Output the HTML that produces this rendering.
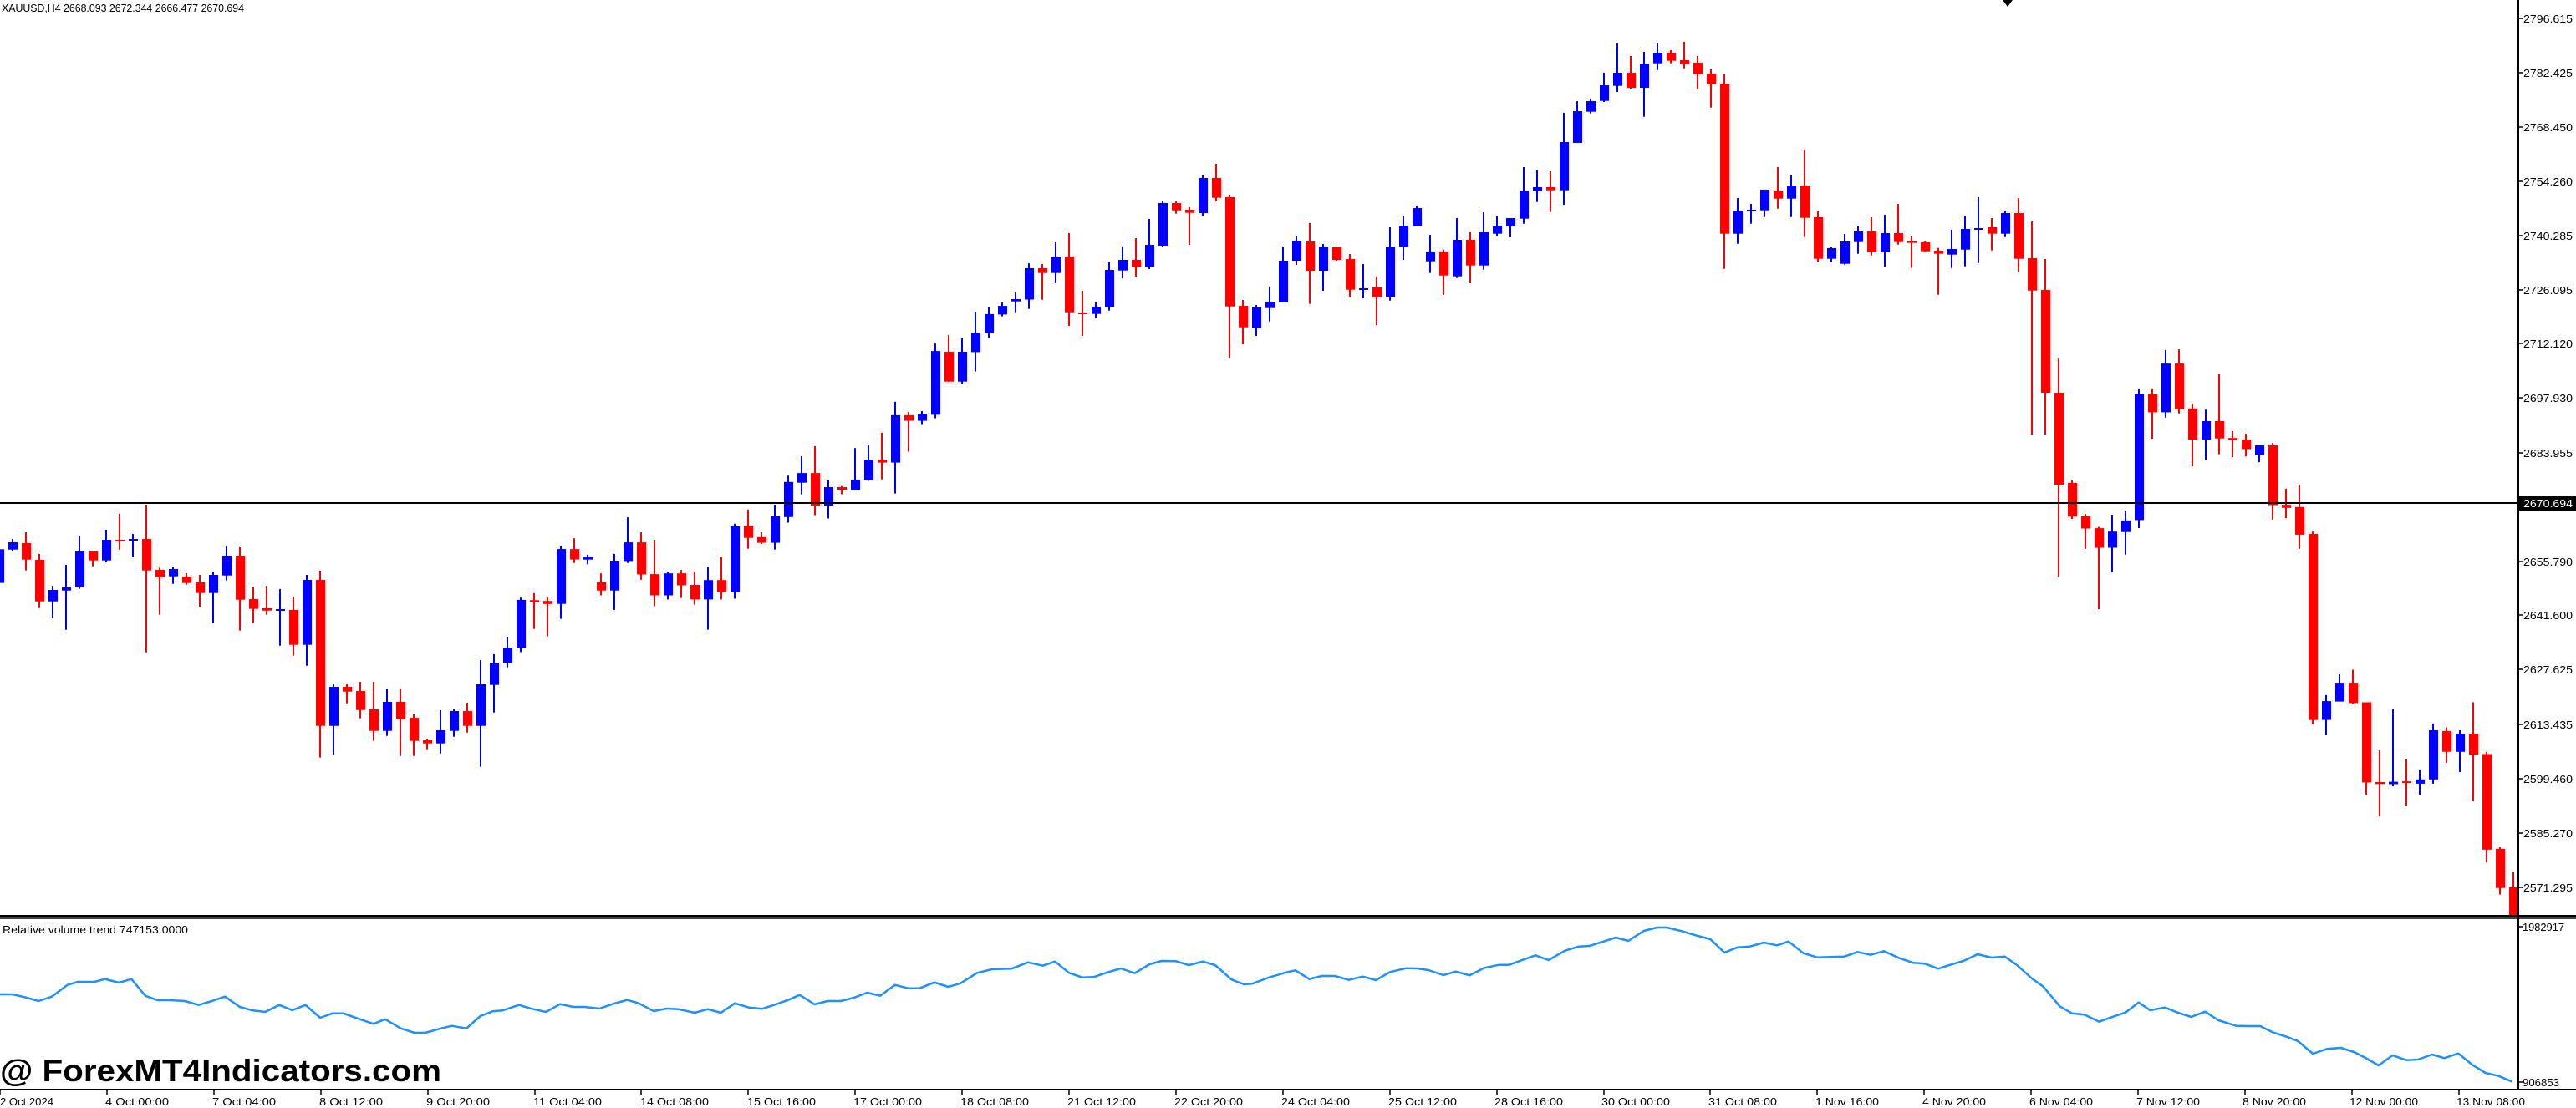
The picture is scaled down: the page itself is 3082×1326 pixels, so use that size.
<!DOCTYPE html>
<html><head><meta charset="utf-8"><style>
html,body{margin:0;padding:0;background:#fff;}
svg{display:block;}
text{font-family:"Liberation Sans",sans-serif;}
</style></head><body>
<svg id="c" width="3082" height="1326" viewBox="0 0 3082 1326" xmlns="http://www.w3.org/2000/svg">
<defs><clipPath id="pc"><rect x="0" y="0" width="3013" height="1095"/></clipPath></defs>
<rect x="0" y="0" width="3082" height="1326" fill="#fff"/>
<g id="candles" clip-path="url(#pc)"></g>
<polyline id="ind" fill="none" stroke="#1e90ff" stroke-width="2.5" stroke-linejoin="round" points=""/>
<line x1="0" y1="602" x2="3013" y2="602" stroke="#000" stroke-width="2"/>
<line x1="3013" y1="0" x2="3013" y2="1304" stroke="#000" stroke-width="2"/>
<line x1="0" y1="1096" x2="3082" y2="1096" stroke="#000" stroke-width="2"/>
<line x1="0" y1="1099" x2="3082" y2="1099" stroke="#000" stroke-width="1.5"/>
<line x1="0" y1="1304" x2="3082" y2="1304" stroke="#000" stroke-width="2"/>
<polygon points="2396,0 2408,0 2402,8" fill="#000"/>
<g id="ticks" stroke="#000" stroke-width="1.5"></g>
<g font-size="13" fill="#000">
<text x="2" y="14" textLength="290" lengthAdjust="spacingAndGlyphs">XAUUSD,H4  2668.093 2672.344 2666.477 2670.694</text>
<text x="3" y="1117" textLength="222" lengthAdjust="spacingAndGlyphs">Relative volume trend 747153.0000</text>
<g>
<text x="3019" y="27" textLength="59" lengthAdjust="spacingAndGlyphs">2796.615</text>
<text x="3019" y="92" textLength="59" lengthAdjust="spacingAndGlyphs">2782.425</text>
<text x="3019" y="157" textLength="59" lengthAdjust="spacingAndGlyphs">2768.450</text>
<text x="3019" y="222" textLength="59" lengthAdjust="spacingAndGlyphs">2754.260</text>
<text x="3019" y="287" textLength="59" lengthAdjust="spacingAndGlyphs">2740.285</text>
<text x="3019" y="352" textLength="59" lengthAdjust="spacingAndGlyphs">2726.095</text>
<text x="3019" y="416" textLength="59" lengthAdjust="spacingAndGlyphs">2712.120</text>
<text x="3019" y="481" textLength="59" lengthAdjust="spacingAndGlyphs">2697.930</text>
<text x="3019" y="547" textLength="59" lengthAdjust="spacingAndGlyphs">2683.955</text>
<text x="3019" y="677" textLength="59" lengthAdjust="spacingAndGlyphs">2655.790</text>
<text x="3019" y="741" textLength="59" lengthAdjust="spacingAndGlyphs">2641.600</text>
<text x="3019" y="806" textLength="59" lengthAdjust="spacingAndGlyphs">2627.625</text>
<text x="3019" y="872" textLength="59" lengthAdjust="spacingAndGlyphs">2613.435</text>
<text x="3019" y="937" textLength="59" lengthAdjust="spacingAndGlyphs">2599.460</text>
<text x="3019" y="1002" textLength="59" lengthAdjust="spacingAndGlyphs">2585.270</text>
<text x="3019" y="1067" textLength="59" lengthAdjust="spacingAndGlyphs">2571.295</text>
<text x="3018" y="1114" textLength="50" lengthAdjust="spacingAndGlyphs">1982917</text>
<text x="3018" y="1300" textLength="44" lengthAdjust="spacingAndGlyphs">906853</text>
</g>
<rect x="3014" y="594" width="68" height="17" fill="#000"/>
<text x="3019" y="607" fill="#fff" textLength="59" lengthAdjust="spacingAndGlyphs">2670.694</text>
<g>
<text x="0" y="1323" textLength="64" lengthAdjust="spacingAndGlyphs">2 Oct 2024</text>
<text x="126" y="1323" textLength="76" lengthAdjust="spacingAndGlyphs">4 Oct 00:00</text>
<text x="254" y="1323" textLength="76" lengthAdjust="spacingAndGlyphs">7 Oct 04:00</text>
<text x="382" y="1323" textLength="76" lengthAdjust="spacingAndGlyphs">8 Oct 12:00</text>
<text x="510" y="1323" textLength="76" lengthAdjust="spacingAndGlyphs">9 Oct 20:00</text>
<text x="638" y="1323" textLength="82" lengthAdjust="spacingAndGlyphs">11 Oct 04:00</text>
<text x="766" y="1323" textLength="82" lengthAdjust="spacingAndGlyphs">14 Oct 08:00</text>
<text x="894" y="1323" textLength="82" lengthAdjust="spacingAndGlyphs">15 Oct 16:00</text>
<text x="1021" y="1323" textLength="82" lengthAdjust="spacingAndGlyphs">17 Oct 00:00</text>
<text x="1149" y="1323" textLength="82" lengthAdjust="spacingAndGlyphs">18 Oct 08:00</text>
<text x="1277" y="1323" textLength="82" lengthAdjust="spacingAndGlyphs">21 Oct 12:00</text>
<text x="1405" y="1323" textLength="82" lengthAdjust="spacingAndGlyphs">22 Oct 20:00</text>
<text x="1533" y="1323" textLength="82" lengthAdjust="spacingAndGlyphs">24 Oct 04:00</text>
<text x="1661" y="1323" textLength="82" lengthAdjust="spacingAndGlyphs">25 Oct 12:00</text>
<text x="1788" y="1323" textLength="82" lengthAdjust="spacingAndGlyphs">28 Oct 16:00</text>
<text x="1916" y="1323" textLength="82" lengthAdjust="spacingAndGlyphs">30 Oct 00:00</text>
<text x="2044" y="1323" textLength="82" lengthAdjust="spacingAndGlyphs">31 Oct 08:00</text>
<text x="2172" y="1323" textLength="76" lengthAdjust="spacingAndGlyphs">1 Nov 16:00</text>
<text x="2300" y="1323" textLength="76" lengthAdjust="spacingAndGlyphs">4 Nov 20:00</text>
<text x="2428" y="1323" textLength="76" lengthAdjust="spacingAndGlyphs">6 Nov 04:00</text>
<text x="2556" y="1323" textLength="76" lengthAdjust="spacingAndGlyphs">7 Nov 12:00</text>
<text x="2683" y="1323" textLength="76" lengthAdjust="spacingAndGlyphs">8 Nov 20:00</text>
<text x="2811" y="1323" textLength="82" lengthAdjust="spacingAndGlyphs">12 Nov 00:00</text>
<text x="2939" y="1323" textLength="82" lengthAdjust="spacingAndGlyphs">13 Nov 08:00</text>
</g>
</g>
<text x="0" y="1294" font-size="37" font-weight="bold" fill="#000" textLength="528" lengthAdjust="spacingAndGlyphs">@ ForexMT4Indicators.com</text>
</svg>
<script>
(function(){
function zz(list,k,b){return list.map(function(c){return [c[0],c[1]/k+b,c[2]/k+b,c[3]/k+b,c[4]/k+b];});}
var z4=[["b",322,443,310,455],["b",297,323,285,330],["r",300,359,261,398],["r",360,509,339,533],["b",468,509,453,570],["b",459,470,378,611],["b",330,458,273,464],["r",330,362,330,383],["b",288,362,252,368],["r",288,292,195,323],["b",285,290,267,350],["r",285,398,162,692],["r",396,422,388,557],["b",393,419,387,446],["r",420,443,408,449],["r",441,479,414,530],["b",414,479,402,587],["b",345,416,309,434],["r",345,503,315,614],["r",501,536,459,587],["r",534,542,453,557],["b",537,542,465,668],["r",540,665,492,704],["b",432,665,414,740],["r",432,956,399,1070],["b",816,956,807,1061],["r",816,833,804,875],["r",831,899,798,929],["r",897,974,798,1010],["b",870,974,822,992],["r",870,932,822,1064],["r",927,1010,915,1064],["r",1008,1019,1002,1040],["b",972,1019,900,1055],["b",903,974,897,995],["r",903,956,873,980],["b",807,956,720,1103],["b",729,809,699,908],["b",675,731,636,746]];
var z5=[["b",1048,1177,1042,1188],["r",1049,1053,1030,1126],["r",1051,1059,1042,1146],["b",912,1059,905,1099],["r",912,940,883,949],["b",932,940,927,953],["r",1001,1023,977,1036],["b",943,1023,925,1075],["b",894,944,827,949],["r",894,980,867,994],["r",979,1036,887,1065],["b",977,1036,973,1047],["r",977,1009,968,1043],["r",1008,1047,972,1061],["b",995,1047,961,1128],["r",995,1027,932,1047],["b",851,1027,844,1045],["r",849,882,806,911],["r",880,895,867,898],["b",824,895,793,913],["b",732,826,715,841],["b",708,734,663,765],["r",708,796,636,821],["b",746,796,726,830],["r",746,753,743,765],["b",726,754,641,754],["b",672,727,632,729],["r",672,680,600,725],["b",553,680,517,763],["r",553,568,544,651],["b",549,568,542,579],["b",381,552,361,561],["r",383,463,338,463],["b",383,463,347,469],["b",332,384,276,436],["b",282,333,264,346],["b",260,283,251,288],["b",242,248,224,277],["b",159,243,146,268]];
var z6=[["r",873,890,858,986],["b",831,890,780,927],["r",831,1031,747,1080],["r",1032,1037,954,1116],["b",1011,1037,996,1052],["b",879,1014,852,1025],["b",843,881,795,909],["r",843,870,765,903],["b",789,870,696,876],["b",639,792,633,798],["r",639,665,633,677],["r",663,674,654,789],["b",549,675,540,684],["r",549,620,498,633],["r",618,1010,609,1194],["r",1008,1085,987,1146],["b",1014,1088,1005,1116],["b",993,1016,939,1064],["b",846,995,795,995],["b",774,846,759,861],["r",777,882,711,1001],["b",795,882,786,954],["r",798,843,795,846],["r",840,950,822,975],["b",945,950,858,981],["r",942,977,903,1077],["b",795,977,726,989],["b",720,797,687,843],["b",657,722,648,722],["b",813,848,753,890],["r",813,899,806,969],["b",771,902,693,908],["r",771,863,744,927],["b",744,863,672,878],["b",720,749,687,758],["b",693,722,693,762],["b",594,695,510,713],["b",582,596,522,635],["r",582,593,525,671]];
var z7=[["b",420,593,315,645],["b",309,423,273,423],["b",273,311,264,317],["b",216,272,171,276],["b",171,218,66,240],["r",171,225,111,228],["b",138,225,96,329],["b",99,137,63,161],["r",99,128,90,137],["r",126,140,60,155],["r",135,176,111,230],["r",174,212,159,296],["r",210,749,174,875],["b",666,749,621,785],["b",663,668,642,713],["b",591,665,591,689],["r",594,623,510,659],["b",576,623,540,689],["r",576,692,447,761],["r",690,839,669,851],["b",801,839,798,851],["b",777,857,750,860],["b",741,779,723,821],["r",741,815,690,827],["b",747,815,681,869],["r",747,779,642,788],["r",776,782,759,872],["r",780,812,774,812],["r",810,821,800,968],["b",804,824,735,872],["b",732,806,684,866],["b",729,734,618,854],["r",726,749,693,809],["b",675,749,666,761],["r",675,839,621,887],["r",837,953,705,1470]];
var mid=[["r",347,470,310,520],["r",470,580,429,690]];
var z8=[["r",431,519,425,525],["r",518,550,512,603],["r",549,600,546,760],["b",558,600,514,664],["b",529,559,505,618],["b",200,528,185,549],["r",200,247,185,316],["b",120,247,85,261],["r",120,239,83,250],["r",237,318,224,388],["b",270,318,240,372],["r",270,315,148,356],["r",314,319,296,364],["r",318,343,303,362],["b",333,358,333,377],["r",333,489,327,527],["r",488,496,446,523],["r",494,566,436,603],["r",564,1049,558,1060],["b",1000,1049,984,1089],["b",952,1001,930,1001],["r",952,1005,918,1008],["r",1003,1212,1003,1244],["r",1211,1216,1128,1300],["b",1210,1216,1021,1222],["r",1209,1212,1150,1272],["b",1204,1215,1178,1244],["b",1076,1204,1058,1215],["r",1078,1132,1068,1161],["b",1085,1132,1076,1185],["r",1085,1140,1003,1261],["r",1138,1387,1132,1421],["r",1385,1487,1381,1504],["r",1485,1600,1446,1600]];
var all=[].concat(zz(z4,3,550),zz(z5,2.24,250),zz(z6,3,30),zz(z7,3,30),mid,zz(z8,2.178,380));
var h="";
for(var i=0;i<all.length;i++){
 var c=all[i],x=16*i-1,col=c[0]=="b"?"#0000ff":"#ff0000";
 var t=Math.min(c[1],c[2]),bt=Math.max(c[1],c[2]);if(bt-t<2)bt=t+2;
 var wt=Math.min(c[3],t),wb=Math.max(c[4],bt);
 h+='<rect x="'+(x-1)+'" y="'+wt.toFixed(1)+'" width="2" height="'+(wb-wt).toFixed(1)+'" fill="'+col+'"/>';
 h+='<rect x="'+(x-5)+'" y="'+t.toFixed(1)+'" width="11" height="'+(bt-t).toFixed(1)+'" fill="'+col+'"/>';
}
document.getElementById("candles").innerHTML=h;
var p9=[[0,180],[15,180],[30,190],[47,204],[63,188],[82,146],[95,135],[115,135],[128,125],[145,138],[160,125],[177,185],[192,201],[207,201],[225,204],[242,218],[258,204],[274,188],[292,225],[308,238],[323,243],[340,218],[356,237],[372,218],[390,264],[405,248],[418,248],[437,268],[455,286],[469,269],[488,302],[505,318],[518,318],[535,304],[550,293],[568,302],[585,258],[600,241],[612,238],[632,218],[648,232],[665,243],[682,215],[698,225],[712,225],[730,231],[748,213],[764,200],[778,212],[796,240],[812,231],[826,233],[846,246],[862,233],[878,246],[895,212],[912,227],[928,232],[944,217],[960,200],[974,182],[992,216],[1008,204],[1024,204],[1040,192],[1056,174],[1072,185],[1090,146],[1106,158],[1120,158],[1138,137],[1155,153],[1170,140],[1190,103],[1208,90],[1232,88],[1252,65],[1270,77],[1285,62],[1302,103],[1318,119],[1332,118],[1350,100],[1365,87],[1382,104],[1400,72],[1415,60],[1432,61],[1448,75],[1465,62],[1480,75],[1500,127],[1515,144],[1525,142],[1545,120],[1568,100]];
var p10=[[10,214],[27,245],[42,234],[58,234],[75,248],[92,236],[108,249],[125,220],[145,206],[158,207],[172,213],[190,231],[205,218],[222,232],[240,205],[258,194],[270,194],[285,178],[302,160],[318,177],[338,143],[355,128],[368,126],[385,110],[400,96],[415,108],[434,72],[450,60],[462,60],[480,73],[497,88],[515,102],[532,150],[548,131],[563,128],[580,114],[596,124],[610,110],[628,152],[645,167],[662,166],[678,164],[694,148],[710,158],[726,145],[745,170],[762,187],[776,190],[792,208],[808,193],[823,180],[840,156],[857,168],[873,164],[888,195],[906,243],[920,272],[940,343],[955,368],[970,373],[988,398],[1002,383],[1020,365],[1036,329],[1050,357],[1068,347],[1084,366],[1100,381],[1117,362],[1133,393],[1155,413],[1170,414],[1184,414],[1200,437],[1216,452],[1230,468],[1248,513],[1265,496],[1282,492],[1298,507],[1312,528],[1328,555],[1345,519],[1362,536],[1376,534],[1393,516],[1408,529],[1425,512],[1442,553],[1458,582],[1474,593],[1490,613]];
var pts=[];
p9.forEach(function(p){pts.push((p[0]/1.018).toFixed(1)+","+(p[1]/3+1130).toFixed(1));});
p10.forEach(function(p){pts.push((p[0]/1.017+1540).toFixed(1)+","+(p[1]/3+1090).toFixed(1));});
document.getElementById("ind").setAttribute("points",pts.join(" "));
var ys=[22,87,152,217,282,347,411,476,542,602,672,736,801,867,932,997,1062,1109,1295];
var t="";ys.forEach(function(y){t+='<line x1="3013" y1="'+y+'" x2="3018" y2="'+y+'"/>';});
for(var k=0;k<24;k++){var x=Math.round(k*127.9);t+='<line x1="'+x+'" y1="1304" x2="'+x+'" y2="1310"/>';}
document.getElementById("ticks").innerHTML=t;
})();
</script>
</body></html>
